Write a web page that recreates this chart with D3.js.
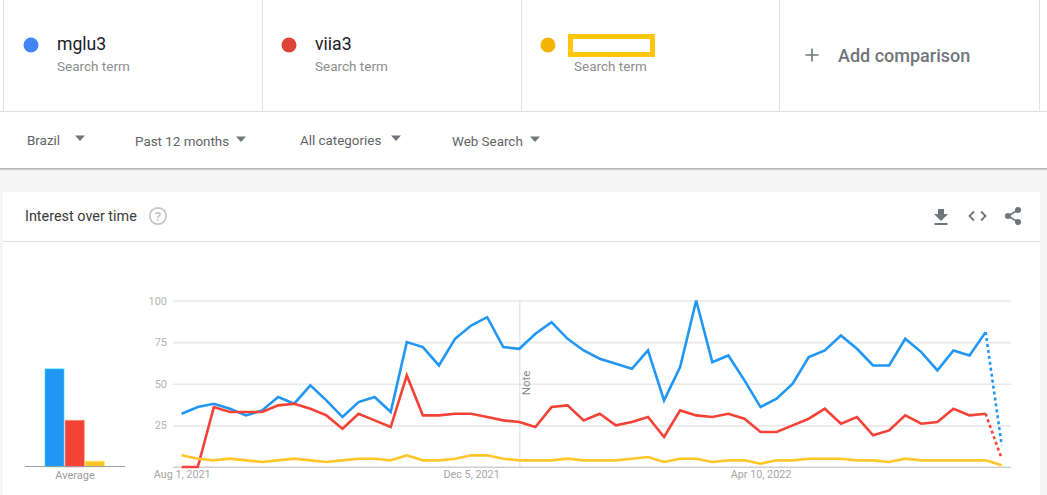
<!DOCTYPE html>
<html>
<head>
<meta charset="utf-8">
<title>Interest over time</title>
<script src="https://cdn.jsdelivr.net/npm/d3@7"></script>
<style>
  html, body { margin: 0; padding: 0; background: #fff; overflow: hidden; }
  svg { display: block; font-family: Roboto, sans-serif; }
</style>
</head>
<body>
<div id="chart"></div>
<script>
const terms = ["mglu3", "viia3", ""];
const filters = ["Brazil", "Past 12 months", "All categories", "Web Search"];
const yTicks = [25, 50, 75, 100];
const xTickLabels = ["Aug 1, 2021", "Dec 5, 2021", "Apr 10, 2022"];

const mglu3 = [32, 36, 38, 35, 31, 34, 42, 38, 49, 40, 30, 39, 42, 33, 75, 72, 61, 77, 85, 90, 72, 71, 80, 87, 77, 70,
  65, 62, 59, 70, 40, 60, 100, 63, 67, 52, 36, 41, 50, 66, 70, 79, 71, 61, 61, 77, 69, 58, 70, 67, 81, 13];
const viia3 = [0, 0, 36, 33, 33, 33, 37, 38, 35, 31, 23, 32, 28, 24, 55, 31, 31, 32, 32, 30, 28, 27, 24, 36, 37, 28,
  32, 25, 27, 30, 18, 34, 31, 30, 32, 29, 21, 21, 25, 29, 35, 26, 30, 19, 22, 31, 26, 27, 35, 31, 32, 5];
const hidden = [7, 5, 4, 5, 4, 3, 4, 5, 4, 3, 4, 5, 5, 4, 7, 4, 4, 5, 7, 7, 5, 4, 4, 4, 5, 4,
  4, 4, 5, 6, 3, 5, 5, 3, 4, 4, 2, 4, 4, 5, 5, 5, 4, 4, 3, 5, 4, 4, 4, 4, 4, 1];
const averages = [59, 28, 3.5];

const dotColors = ["#4285f4", "#db4437", "#f4b400"];
const lineColors = ["#2196f3", "#f44336", "#ffc629"];

const weeks = d3.utcSunday.range(new Date(Date.UTC(2021, 7, 1)), new Date(Date.UTC(2022, 6, 25)));
const parseLabel = d3.utcParse("%b %-d, %Y");
const formatLabel = d3.utcFormat("%b %-d, %Y");

const svg = d3.select("#chart").append("svg").attr("width", 1047).attr("height", 495);

// page blocks
svg.append("rect").attr("y", 168).attr("width", 1047).attr("height", 327).attr("fill", "#f5f5f5");
svg.append("rect").attr("y", 168).attr("width", 1047).attr("height", 1).attr("fill", "#b5b5b5");
svg.append("rect").attr("y", 169).attr("width", 1047).attr("height", 1).attr("fill", "#d4d4d4");
svg.append("rect").attr("y", 170).attr("width", 1047).attr("height", 1).attr("fill", "#ebebeb");
svg.append("rect").attr("x", 3).attr("y", 192).attr("width", 1037).attr("height", 303).attr("fill", "#fff");
svg.append("rect").attr("y", 111).attr("width", 1047).attr("height", 1).attr("fill", "#e0e0e0");
svg.append("rect").attr("x", 3).attr("y", 241).attr("width", 1037).attr("height", 1).attr("fill", "#e0e0e0");
svg.selectAll("rect.divider").data([3, 262, 521, 779, 1039]).enter().append("rect")
  .attr("class", "divider")
  .attr("x", d => d).attr("y", 0).attr("width", 1).attr("height", 111).attr("fill", "#e0e0e0");

// search term cards
const cardX = [57, 315, 574];
const card = svg.selectAll("g.card").data(terms).enter().append("g").attr("class", "card");
card.append("circle")
  .attr("cx", (d, i) => cardX[i] - 26)
  .attr("cy", 45)
  .attr("r", 7.5)
  .attr("fill", (d, i) => dotColors[i]);
card.append("text")
  .attr("x", (d, i) => cardX[i])
  .attr("y", 50)
  .attr("font-size", 17.6)
  .attr("fill", "#1a1a2a")
  .text(d => d);
card.append("text")
  .attr("x", (d, i) => cardX[i])
  .attr("y", 71)
  .attr("font-size", 13.5)
  .attr("fill", "#8d8d8d")
  .text("Search term");
svg.append("rect")
  .attr("x", 570.5).attr("y", 36.5).attr("width", 82).attr("height", 18)
  .attr("fill", "#fff").attr("stroke", "#ffc60a").attr("stroke-width", 5);

// add comparison
svg.append("path").attr("d", "M812 48.5V61.5M805.5 55H818.5").attr("stroke", "#70757a").attr("stroke-width", 1.6);
svg.append("text").attr("x", 838).attr("y", 62).attr("font-size", 18).attr("font-weight", 500)
  .attr("fill", "#70757a").text("Add comparison");

// filter row
const filterX = [27, 135, 300, 452];
const filterY = [145, 146, 145, 146];
const arrowX = [80, 241, 396, 535];
svg.selectAll("text.filter").data(filters).enter().append("text")
  .attr("class", "filter")
  .attr("x", (d, i) => filterX[i])
  .attr("y", (d, i) => filterY[i])
  .attr("font-size", 13.4)
  .attr("fill", "#5f6368")
  .text(d => d);
svg.selectAll("path.arrow").data(filters).enter().append("path")
  .attr("class", "arrow")
  .attr("transform", (d, i) => `translate(${arrowX[i]},${filterY[i] - 7})`)
  .attr("d", "M-5 -2.5H5L0 3Z")
  .attr("fill", "#70757a");

// card header
svg.append("text").attr("x", 25).attr("y", 221).attr("font-size", 14.4).attr("fill", "#3a3a3a").text("Interest over time");
svg.append("circle").attr("cx", 158).attr("cy", 216).attr("r", 8.2)
  .attr("fill", "none").attr("stroke", "#c6c6c6").attr("stroke-width", 1.8);
svg.append("text").attr("x", 158).attr("y", 221).attr("font-size", 13).attr("font-weight", 500)
  .attr("text-anchor", "middle").attr("fill", "#c0c0c0").text("?");

// download, embed, share
svg.append("path").attr("d", "M938 209H944V214H948L941 221L934 214H938ZM934.5 223H947.5V225H934.5Z").attr("fill", "#70757a");
svg.append("path").attr("d", "M974 211.5L969.5 216L974 220.5M981 211.5L985.5 216L981 220.5")
  .attr("fill", "none").attr("stroke", "#70757a").attr("stroke-width", 1.8);
svg.append("path").attr("d", "M1018 210L1008 216L1018 222").attr("fill", "none").attr("stroke", "#70757a").attr("stroke-width", 1.6);
svg.selectAll("circle.share").data([[1018, 210], [1008, 216], [1018, 222]]).enter().append("circle")
  .attr("class", "share")
  .attr("cx", d => d[0]).attr("cy", d => d[1]).attr("r", 3).attr("fill", "#70757a");

// average bars
const barX = d3.scaleBand().domain(d3.range(terms.length)).range([44.4, 105]);
const y = d3.scaleLinear().domain([0, 100]).range([467, 300.5]);

svg.selectAll("rect.avg").data(averages).enter().append("rect")
  .attr("class", "avg")
  .attr("x", (d, i) => barX(i) + 0.5)
  .attr("width", barX.bandwidth() - 1)
  .attr("y", d => y(d))
  .attr("height", d => y(0) - y(d))
  .attr("fill", (d, i) => lineColors[i])
  .attr("stroke", (d, i) => d3.color(lineColors[i]).brighter(1.6))
  .attr("stroke-opacity", 0.45);
svg.append("rect").attr("x", 25).attr("y", 466).attr("width", 100).attr("height", 1).attr("fill", "#9e9e9e");
svg.append("text").attr("x", 75).attr("y", 479).attr("font-size", 11).attr("text-anchor", "middle")
  .attr("fill", "#9a9a9a").text("Average");

// line chart
const x = d3.scaleUtc().domain([weeks[0], weeks[weeks.length - 1]]).range([181.7, 1001.7]);

const yAxis = svg.append("g")
  .attr("transform", "translate(173,0)")
  .call(d3.axisLeft(y).tickValues(yTicks).tickSize(0).tickPadding(6));
yAxis.select(".domain").remove();
yAxis.selectAll("text").attr("font-family", "Roboto, sans-serif").attr("font-size", 11).attr("fill", "#b4b4b4");
yAxis.selectAll("line")
  .attr("x2", 838)
  .attr("stroke", "#e9e9e9")
  .attr("stroke-width", 1.6);

const xAxis = svg.append("g")
  .attr("transform", "translate(0,467)")
  .call(d3.axisBottom(x).tickValues(xTickLabels.map(parseLabel)).tickFormat(formatLabel).tickSize(0).tickPadding(3));
xAxis.select(".domain").remove();
xAxis.selectAll("text").attr("font-family", "Roboto, sans-serif").attr("font-size", 10.8).attr("fill", "#a5a5a5");
svg.append("rect").attr("x", 173).attr("y", 466.5).attr("width", 838).attr("height", 1.5).attr("fill", "#cfcfcf");

// note marker
const noteDate = weeks[21];
svg.append("line")
  .attr("x1", x(noteDate) + 0.5).attr("x2", x(noteDate) + 0.5)
  .attr("y1", y(100)).attr("y2", y(0))
  .attr("stroke", "#dcdcdc").attr("stroke-width", 1);
svg.append("text")
  .attr("transform", `translate(${x(noteDate) + 11},383) rotate(-90)`)
  .attr("font-size", 11.5)
  .attr("text-anchor", "middle")
  .attr("fill", "#8a8a8a")
  .text("Note");

const line = d3.line().x(d => x(d.week)).y(d => y(d.value));
[mglu3, viia3, hidden].forEach((values, s) => {
  const points = values.map((value, i) => ({week: weeks[i], value: value}));
  // the last week is still partial, so it is dotted
  svg.append("path")
    .attr("d", line(points.slice(-2)))
    .attr("fill", "none")
    .attr("stroke", lineColors[s])
    .attr("stroke-width", 2.6)
    .attr("stroke-dasharray", s === 2 ? null : "3,3");
  svg.append("path")
    .attr("d", line(points.slice(0, -1)))
    .attr("fill", "none")
    .attr("stroke", lineColors[s])
    .attr("stroke-width", 2.6);
});
</script>
</body>
</html>
